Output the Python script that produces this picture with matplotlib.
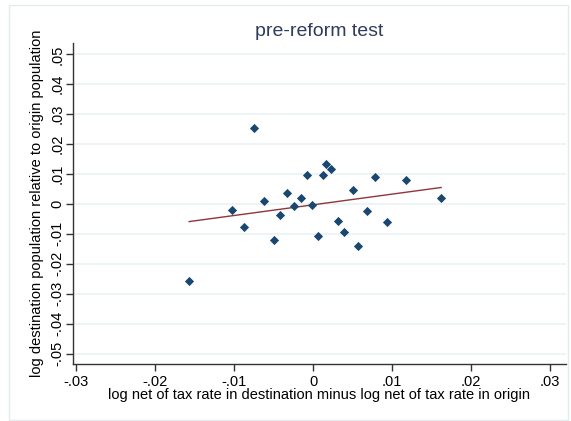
import matplotlib
matplotlib.use('Agg')
import matplotlib.pyplot as plt
from matplotlib.patches import Rectangle

# Scatter points
tax_diff = [-0.0075, -0.0157, -0.0103, -0.0087, -0.0062, -0.0050, -0.0042,
            -0.0033, -0.0024, -0.0016, -0.0008, -0.0001, 0.0006, 0.0012,
            0.0016, 0.0022, 0.0032, 0.0039, 0.0050, 0.0057, 0.0068, 0.0078,
            0.0094, 0.0117, 0.0162]
pop_diff = [0.0254, -0.0258, -0.0020, -0.0076, 0.0009, -0.0120, -0.0037,
            0.0037, -0.0007, 0.0021, 0.0097, -0.0004, -0.0108, 0.0097,
            0.0134, 0.0117, -0.0056, -0.0093, 0.0045, -0.0140, -0.0023,
            0.0089, -0.0060, 0.0081, 0.0021]

# Fitted line end points
fit_x = [-0.0157, 0.0162]
fit_y = [-0.0059, 0.0055]

xticks = [-0.03, -0.02, -0.01, 0, 0.01, 0.02, 0.03]
xtick_labels = ['-.03', '-.02', '-.01', '0', '.01', '.02', '.03']
yticks = [-0.05, -0.04, -0.03, -0.02, -0.01, 0, 0.01, 0.02, 0.03, 0.04, 0.05]
ytick_labels = ['-.05', '-.04', '-.03', '-.02', '-.01', '0', '.01', '.02', '.03', '.04', '.05']

plt.rcParams['font.family'] = ['Liberation Sans', 'DejaVu Sans']

fig = plt.figure(figsize=(5.71, 4.21), dpi=100)
fig.patches.append(Rectangle((9 / 571, 0.003), 0.995 - 9 / 571, 0.985, transform=fig.transFigure,
                             fill=False, edgecolor='#e3ebee', linewidth=1))

ax = fig.add_axes([0.1278, 0.1354, 0.8634, 0.7625])
ax.set_xlim(-0.0304, 0.0320)
ax.set_ylim(-0.0535, 0.0538)

# Horizontal grid lines
for y in yticks:
    ax.axhline(y, color='#eaf2f3', linewidth=1.2, zorder=0)

ax.plot(fit_x, fit_y, color='#90353b', linewidth=1, zorder=2)
ax.scatter(tax_diff, pop_diff, marker='D', s=22, color='#1a476f', zorder=3, linewidths=0)

ax.set_xticks(xticks)
ax.set_xticklabels(xtick_labels, fontsize=10.5)
ax.set_yticks(yticks)
ax.set_yticklabels(ytick_labels, fontsize=10.5, rotation=90, va='center')

for side in ['top', 'right']:
    ax.spines[side].set_visible(False)
for side in ['left', 'bottom']:
    ax.spines[side].set_color('#333333')
    ax.spines[side].set_linewidth(1)
ax.tick_params(direction='out', length=5, width=1, color='#333333')
ax.tick_params(axis='x', pad=3)
ax.tick_params(axis='y', pad=1)

ax.set_xlabel('log net of tax rate in destination minus log net of tax rate in origin',
              fontsize=10.5, labelpad=-1)
ax.set_ylabel('log destination population relative to origin population', fontsize=10.5, labelpad=5)
ax.set_title('pre-reform test', fontsize=14, color='#2e3c5e', pad=5)

fig.savefig('out.png', dpi=100)
